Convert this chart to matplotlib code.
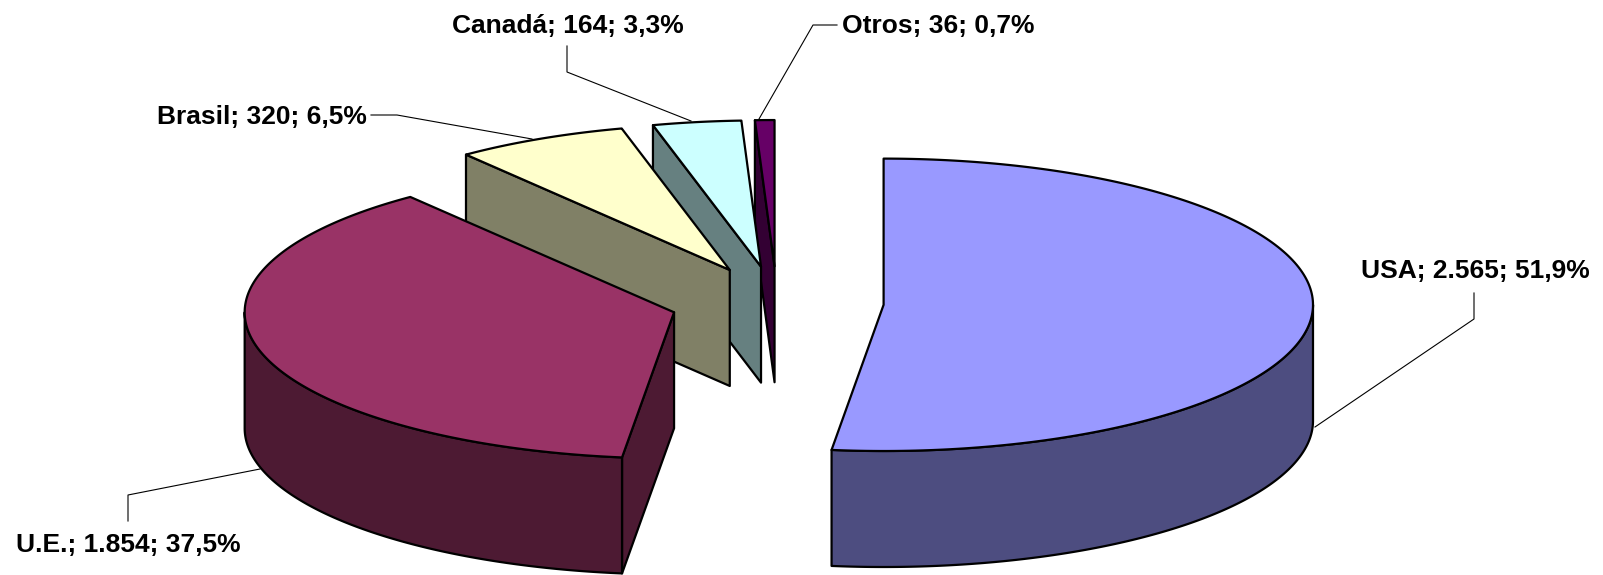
import numpy as np
import matplotlib
matplotlib.use("Agg")
import matplotlib.pyplot as plt

names = ["USA", "U.E.", "Brasil", "Canadá", "Otros"]
values = [2565, 1854, 320, 164, 36]
value_labels = ["2.565", "1.854", "320", "164", "36"]
pct_labels = ["51,9%", "37,5%", "6,5%", "3,3%", "0,7%"]
top_colors = ["#9999FF", "#993366", "#FFFFCC", "#CCFFFF", "#660066"]
side_colors = ["#4D4D80", "#4D1A33", "#808066", "#668080", "#330033"]

# pie geometry in pixels
cx, cy = 777.0, 302.6
rx, ry = 429.4, 146.2
depth = 116.0
explode = 106.8

# label position, then leader line points
label_pos = [(1361, 270.5), (16, 545.5), (157, 117), (452, 26), (842, 26)]
leaders = [
    [(1315, 427), (1474, 319), (1474, 293)],
    [(260, 469), (128, 495), (128, 521)],
    [(532, 139), (397, 115), (371, 115)],
    [(691, 121), (567, 72), (567, 46)],
    [(759, 119), (813, 25), (837, 25)],
]

fig = plt.figure(figsize=(16.03, 5.75), dpi=100)
ax = fig.add_axes([0, 0, 1, 1])
ax.set_xlim(0, 1603)
ax.set_ylim(575, 0)
ax.axis("off")


def rim(x0, y0, a0, a1):
    t = np.radians(np.linspace(a0, a1, 200))
    return x0 + rx * np.sin(t), y0 - ry * np.cos(t)


def poly(xs, ys, color, z):
    ax.fill(xs, ys, facecolor=color, edgecolor="black", linewidth=1.6,
            joinstyle="round", zorder=z)


total = sum(values)
ends = np.cumsum(values) / total * 360
starts = ends - np.array(values) / total * 360

# back slices first so the front ones cover them
for i in range(len(values) - 1, -1, -1):
    a0, a1 = starts[i], ends[i]
    mid = np.radians((a0 + a1) / 2)
    x0 = cx + explode * np.sin(mid)
    y0 = cy - explode * ry / rx * np.cos(mid)
    z = 10 + (len(values) - i) * 3

    # cut face at the start angle, only seen when it is on the left half
    if a0 > 180:
        xr, yr = rim(x0, y0, a0, a0)
        xr, yr = xr[0], yr[0]
        poly([x0, xr, xr, x0], [y0, yr, yr + depth, y0 + depth], side_colors[i], z)

    # outer wall on the front half
    lo, hi = max(a0, 90), min(a1, 270)
    if lo < hi:
        xw, yw = rim(x0, y0, lo, hi)
        poly(np.r_[xw, xw[::-1]], np.r_[yw, yw[::-1] + depth], side_colors[i], z + 1)

    xt, yt = rim(x0, y0, a0, a1)
    poly(np.r_[x0, xt], np.r_[y0, yt], top_colors[i], z + 2)

for pts in leaders:
    ax.plot([p[0] for p in pts], [p[1] for p in pts], color="black", linewidth=0.8, zorder=40)

for i, name in enumerate(names):
    ax.text(label_pos[i][0], label_pos[i][1],
            f"{name}; {value_labels[i]}; {pct_labels[i]}",
            family="Liberation Sans", fontweight="bold", fontsize=19,
            ha="left", va="center", zorder=50)

fig.savefig("out.png", dpi=100)
